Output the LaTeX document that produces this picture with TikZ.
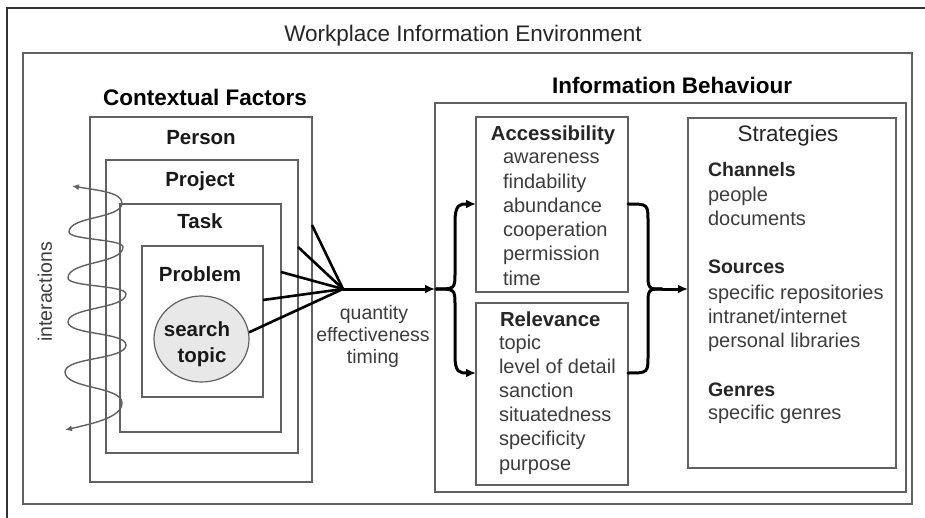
\documentclass[tikz,border=0pt]{standalone}
\usepackage{fontspec}
\setmainfont{Liberation Sans}
\usetikzlibrary{arrows.meta,shapes.geometric}
\definecolor{boxgray}{gray}{0.38}
\definecolor{txtgray}{gray}{0.24}
\begin{document}
\begin{tikzpicture}[x={(1pt,0pt)}, y={(0pt,-1pt)},
  box/.style={draw=boxgray, line width=1.3pt, rectangle, inner sep=0pt, outer sep=0pt, anchor=north west},
  lbl/.style={inner sep=0pt, outer sep=0pt},
  bigtitle/.style={lbl, anchor=base, font=\fontsize{22.5}{27}\selectfont},
  boldtitle/.style={lbl, anchor=base, font=\fontsize{22.5}{27}\selectfont\bfseries},
  ctx/.style={lbl, anchor=base, font=\fontsize{20.5}{25}\selectfont\bfseries, text=black!90},
  head/.style={lbl, anchor=base, font=\fontsize{20.3}{25}\selectfont\bfseries, text=black!85},
  item/.style={lbl, anchor=base west, font=\fontsize{20}{24}\selectfont, text=txtgray},
  subhead/.style={lbl, anchor=base west, font=\fontsize{19.5}{24}\selectfont\bfseries, text=black!85},
  midlbl/.style={lbl, anchor=base, font=\fontsize{19.5}{23}\selectfont, text=txtgray},
  fan/.style={line width=2.6pt, black},
  thickarrow/.style={line width=3pt, black, -{Latex[length=10pt,width=9pt]}},
  brace/.style={line width=3pt, black, line cap=round},
  wave/.style={line width=1.4pt, boxgray, {Latex[length=7pt,width=6pt]}-{Latex[length=7pt,width=6pt]}}
]
\useasboundingbox (0,0) rectangle (925,518);
\fill[white] (0,0) rectangle (925,518);
% outer frame (left and top edges of picture frame)
\draw[line width=1.3pt, black!80] (7,518) -- (7,8) -- (925,8);

% Workplace box
\node[box, minimum width=889pt, minimum height=451pt] (wie) at (23,53) {};
\node[bigtitle, text=black!85] (wietitle) at (463,42) {Workplace Information Environment};

% Contextual factors
\node[boldtitle] (cftitle) at (205,106) {Contextual Factors};
\node[box, minimum width=222pt, minimum height=365pt] (person) at (90,117) {};
\node[box, minimum width=192pt, minimum height=293pt] (project) at (106,160) {};
\node[box, minimum width=161pt, minimum height=228pt] (task) at (120,204) {};
\node[box, minimum width=121pt, minimum height=151pt] (problem) at (142,246) {};
\node[ctx] (personlbl) at (201,145) {Person};
\node[ctx] (projectlbl) at (200,187) {Project};
\node[ctx] (tasklbl) at (200,229) {Task};
\node[ctx] (problemlbl) at (200,281) {Problem};
\node[draw=boxgray, line width=1.2pt, fill=black!9, ellipse, minimum width=95pt, minimum height=86pt, inner sep=0pt] (topic) at (201.5,339) {};
\node[ctx] (searchw) at (197,336) {search};
\node[ctx] (topicw) at (202,362) {topic};

% interactions wave
\node[midlbl, anchor=center, rotate=90] (interactions) at (45,292) {interactions};
\draw[wave] (72,186) .. controls (95,190) and (122,192) .. (122,203)
  .. controls (122,219) and (69,216) .. (69,232)
  .. controls (69,240) and (123,239) .. (123,247)
  .. controls (123,264) and (68,261) .. (68,278)
  .. controls (68,287) and (126,285) .. (126,294)
  .. controls (126,309) and (68,307) .. (68,322)
  .. controls (68,335) and (126,332) .. (126,345)
  .. controls (126,360) and (65,357) .. (65,372)
  .. controls (65,389) and (122,386) .. (122,403)
  .. controls (122,418) and (90,424) .. (65,430);

% fan lines
\coordinate (F) at (343,289);
\draw[fan] (person.east |- 0,225) -- (F);
\draw[fan] (project.east |- 0,247) -- (F);
\draw[fan] (task.east |- 0,272) -- (F);
\draw[fan] (problem.east |- 0,300) -- (F);
\draw[fan] (topic.8) -- (F);
\node[midlbl] (quantity) at (374,319) {quantity};
\node[midlbl] (effect) at (373,341) {effectiveness};
\node[midlbl] (timing) at (373,363) {timing};

% Information behaviour
\node[boldtitle] (ibtitle) at (672,94) {Information Behaviour};
\node[box, minimum width=471pt, minimum height=389pt] (ib) at (435,103) {};
\draw[thickarrow] (F) -- (ib.west |- F);

\node[box, minimum width=152pt, minimum height=175pt] (acc) at (476,117) {};
\node[box, minimum width=152pt, minimum height=182pt] (rel) at (476,303) {};
\node[box, minimum width=208pt, minimum height=350pt] (strat) at (688,118) {};

% left brace
\coordinate (J) at (436,289);
\draw[brace, -{Latex[length=10pt,width=9pt]}] (J) .. controls (455,289) .. (455,272) -- (455,222)
  .. controls (455,204) and (460,204) .. (acc.west |- 0,204);
\draw[brace, -{Latex[length=10pt,width=9pt]}] (J) .. controls (455,289) .. (455,306) -- (455,356)
  .. controls (455,373) and (460,373) .. (rel.west |- 0,373);

% right brace
\coordinate (K) at (662,289);
\draw[brace] (acc.east |- 0,204) .. controls (648,204) .. (648,222) -- (648,272) .. controls (648,289) .. (K);
\draw[brace] (rel.east |- 0,373) .. controls (648,373) .. (648,355) -- (648,306) .. controls (648,289) .. (K);
\draw[thickarrow] (K) -- (strat.west |- K);

% Accessibility
\node[head] (acctitle) at (553,141) {Accessibility};
\foreach \t [count=\i] in {awareness,findability,abundance,cooperation,permission,time}
  \node[item] (acc\i) at (503,{164+24.2*(\i-1)}) {\t};

% Relevance
\node[head, anchor=base west] (reltitle) at (500,326) {Relevance};
\foreach \t [count=\i] in {topic,level of detail,sanction,situatedness,specificity,purpose}
  \node[item] (rel\i) at (499,{349+24.2*(\i-1)}) {\t};

% Strategies
\node[bigtitle, font=\fontsize{22.4}{27}\selectfont, text=black!85] (strattitle) at (788,142) {Strategies};
\node[subhead] (channels) at (708,177) {Channels};
\node[item] (people) at (708,202) {people};
\node[item] (documents) at (708,226) {documents};
\node[subhead] (sources) at (708,274) {Sources};
\node[item] (repos) at (708,299) {specific repositories};
\node[item] (intranet) at (708,323) {intranet/internet};
\node[item] (libraries) at (708,347) {personal libraries};
\node[subhead] (genres) at (708,396) {Genres};
\node[item] (sgenres) at (708,419) {specific genres};
\end{tikzpicture}
\end{document}
